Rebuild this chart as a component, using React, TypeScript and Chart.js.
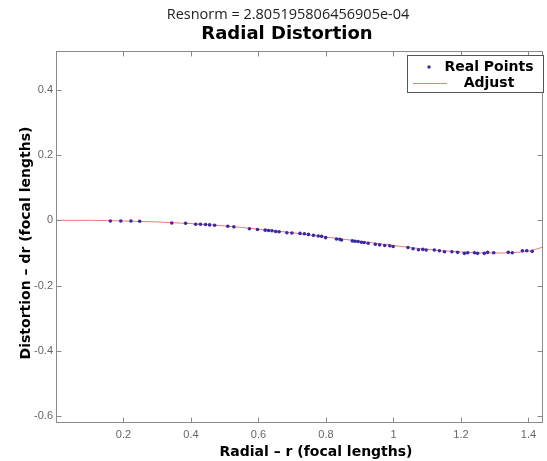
import React, { useEffect, useRef } from "react";
import { Chart, registerables } from "chart.js";

Chart.register(...registerables);

const pointR: number[] = [0.161, 0.192, 0.222, 0.248, 0.343, 0.384, 0.414, 0.428, 0.443, 0.455, 0.47, 0.509, 0.527, 0.573, 0.597, 0.62, 0.63, 0.64, 0.651, 0.661, 0.684, 0.699, 0.723, 0.736, 0.748, 0.763, 0.777, 0.787, 0.799, 0.831, 0.841, 0.846, 0.878, 0.886, 0.895, 0.905, 0.913, 0.925, 0.946, 0.959, 0.974, 0.989, 0.999, 1.043, 1.058, 1.074, 1.087, 1.097, 1.121, 1.136, 1.151, 1.173, 1.19, 1.21, 1.22, 1.24, 1.249, 1.269, 1.279, 1.297, 1.34, 1.352, 1.382, 1.395, 1.411];
const pointDr: number[] = [-0.002, -0.002, -0.002, -0.003, -0.008, -0.009, -0.012, -0.012, -0.013, -0.014, -0.015, -0.018, -0.02, -0.026, -0.028, -0.03, -0.031, -0.032, -0.034, -0.035, -0.038, -0.039, -0.04, -0.041, -0.043, -0.046, -0.048, -0.049, -0.053, -0.057, -0.058, -0.06, -0.063, -0.064, -0.065, -0.067, -0.068, -0.07, -0.073, -0.075, -0.077, -0.078, -0.08, -0.083, -0.087, -0.09, -0.089, -0.091, -0.091, -0.093, -0.096, -0.096, -0.098, -0.101, -0.099, -0.099, -0.101, -0.101, -0.098, -0.099, -0.098, -0.099, -0.093, -0.093, -0.095];

const fitR: number[] = [0, 0.1, 0.2, 0.3, 0.4, 0.5, 0.6, 0.7, 0.8, 0.9, 1.0, 1.1, 1.2, 1.3, 1.4, 1.443];
const fitDr: number[] = [0, 0, -0.002, -0.005, -0.01, -0.017, -0.027, -0.038, -0.051, -0.064, -0.077, -0.089, -0.097, -0.1, -0.094, -0.082];

const xTicks: number[] = [0.2, 0.4, 0.6, 0.8, 1.0, 1.2, 1.4];
const xTickLabels: string[] = ["0.2", "0.4", "0.6", "0.8", "1", "1.2", "1.4"];
const yTicks: number[] = [-0.6, -0.4, -0.2, 0, 0.2, 0.4];
const yTickLabels: string[] = ["-0.6", "-0.4", "-0.2", "0", "0.2", "0.4"];

const superTitle = "Resnorm = 2.805195806456905e-04";
const chartTitle = "Radial Distortion";
const xTitle = "Radial \u2013 r (focal lengths)";
const yTitle = "Distortion \u2013 dr (focal lengths)";
const seriesNames: string[] = ["Real Points", "Adjust"];

const POINT_COLOR = "#3b2aa6";
const LINE_COLOR = "#f07878";
const FRAME_COLOR = "#8a8a8a";
const BOLD_FONT = "'DejaVu Sans'";

const decorPlugin = {
  id: "decor",
  afterDraw(chart: any) {
    const ctx = chart.ctx as CanvasRenderingContext2D;
    const { left, right, top, bottom } = chart.chartArea;
    const xs = chart.scales.x;
    const ys = chart.scales.y;
    ctx.save();
    // frame
    ctx.strokeStyle = FRAME_COLOR;
    ctx.lineWidth = 1;
    const L = Math.round(left) + 0.5;
    const R = Math.round(right) - 0.5;
    const T = Math.round(top) + 0.5;
    const B = Math.round(bottom) + 0.5;
    ctx.strokeRect(L, T, R - L, B - T);
    // ticks
    const tl = 5;
    ctx.beginPath();
    xTicks.forEach((v) => {
      const px = Math.round(xs.getPixelForValue(v)) + 0.5;
      ctx.moveTo(px, B);
      ctx.lineTo(px, B - tl);
      ctx.moveTo(px, T);
      ctx.lineTo(px, T + tl);
    });
    yTicks.forEach((v) => {
      const py = Math.round(ys.getPixelForValue(v)) + 0.5;
      ctx.moveTo(L, py);
      ctx.lineTo(L + tl, py);
      ctx.moveTo(R, py);
      ctx.lineTo(R - tl, py);
    });
    ctx.stroke();

    // titles
    ctx.fillStyle = "#222";
    ctx.textAlign = "center";
    ctx.textBaseline = "middle";
    ctx.font = "14.5px 'Open Sans'";
    ctx.fillText(superTitle, 288, 15);
    ctx.fillStyle = "#000";
    ctx.font = `bold 18px ${BOLD_FONT}`;
    ctx.fillText(chartTitle, 287, 34);

    // axis titles
    ctx.font = `bold 14px ${BOLD_FONT}`;
    ctx.fillText(xTitle, 316, 452);
    ctx.save();
    ctx.translate(26, 243);
    ctx.rotate(-Math.PI / 2);
    ctx.fillText(yTitle, 0, 0);
    ctx.restore();

    // legend
    const lx = 407, ly = 55, lw = 136, lh = 37;
    ctx.fillStyle = "#fff";
    ctx.fillRect(lx, ly, lw, lh);
    ctx.strokeStyle = "#555";
    ctx.strokeRect(lx + 0.5, ly + 0.5, lw, lh);
    ctx.fillStyle = "#000";
    ctx.font = `bold 14px ${BOLD_FONT}`;
    ctx.fillText(seriesNames[0], 489, 67);
    ctx.fillText(seriesNames[1], 489, 83);
    ctx.fillStyle = POINT_COLOR;
    ctx.beginPath();
    ctx.arc(429, 67, 1.7, 0, Math.PI * 2);
    ctx.fill();
    ctx.strokeStyle = LINE_COLOR;
    ctx.beginPath();
    ctx.moveTo(413, 83.5);
    ctx.lineTo(447, 83.5);
    ctx.stroke();
    ctx.restore();
  },
};

export default function App() {
  const ref = useRef<HTMLCanvasElement | null>(null);
  useEffect(() => {
    if (!ref.current) return;
    const chart = new Chart(ref.current, {
      type: "scatter",
      data: {
        datasets: [
          {
            label: seriesNames[0],
            data: pointR.map((r, i) => ({ x: r, y: pointDr[i] })),
            pointRadius: 1.8,
            pointBackgroundColor: POINT_COLOR,
            pointBorderWidth: 0,
            showLine: false,
          },
          {
            type: "line",
            label: seriesNames[1],
            data: fitR.map((r, i) => ({ x: r, y: fitDr[i] })),
            borderColor: LINE_COLOR,
            borderWidth: 1,
            pointRadius: 0,
            cubicInterpolationMode: "monotone",
            fill: false,
          } as any,
        ],
      },
      options: {
        responsive: false,
        animation: false,
        devicePixelRatio: 1,
        layout: { padding: { left: 0, top: 51, right: 1, bottom: 0 } },
        plugins: { legend: { display: false }, tooltip: { enabled: false }, title: { display: false } },
        scales: {
          x: {
            type: "linear",
            min: 0,
            max: 1.443,
            grid: { display: false, drawTicks: false },
            border: { display: false },
            afterBuildTicks: (s: any) => {
              s.ticks = xTicks.map((v) => ({ value: v }));
            },
            afterFit: (s: any) => {
              s.height = 39;
              s.paddingLeft = 0;
              s.paddingRight = 0;
            },
            ticks: {
              autoSkip: false,
              maxRotation: 0,
              padding: 6,
              color: "#666",
              font: { family: "'Liberation Sans'", size: 11 },
              callback: (_v: any, i: number) => xTickLabels[i],
            },
          },
          y: {
            type: "linear",
            min: -0.617,
            max: 0.518,
            grid: { display: false, drawTicks: false },
            border: { display: false },
            afterBuildTicks: (s: any) => {
              s.ticks = yTicks.map((v) => ({ value: v }));
            },
            afterFit: (s: any) => {
              s.width = 56;
              s.paddingTop = 0;
              s.paddingBottom = 0;
            },
            ticks: {
              autoSkip: false,
              padding: 3,
              color: "#666",
              font: { family: "'Liberation Sans'", size: 11 },
              callback: (_v: any, i: number) => yTickLabels[i],
            },
          },
        },
      },
      plugins: [decorPlugin],
    });
    return () => chart.destroy();
  }, []);
  return (
    <div style={{ position: "fixed", left: 0, top: 0, width: 547, height: 461, background: "#fff" }}>
      <canvas ref={ref} width={547} height={461} style={{ display: "block" }} />
    </div>
  );
}
